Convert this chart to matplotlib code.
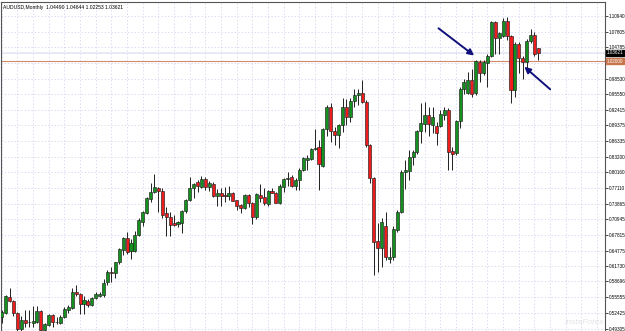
import matplotlib
matplotlib.use('Agg')
import matplotlib.pyplot as plt
import numpy as np

symbol_title = "AUDUSD,Monthly  1.04490 1.04644 1.02253 1.03621"

opens = [0.518, 0.525, 0.557, 0.548, 0.525, 0.494, 0.511, 0.508, 0.505, 0.508,
         0.528, 0.492, 0.501, 0.520, 0.507, 0.506, 0.518, 0.531, 0.535, 0.566,
         0.562, 0.543, 0.549, 0.541, 0.554, 0.558, 0.560, 0.585, 0.606, 0.603,
         0.625, 0.648, 0.672, 0.646, 0.646, 0.678, 0.704, 0.721, 0.749, 0.762,
         0.770, 0.765, 0.721, 0.713, 0.701, 0.700, 0.702, 0.725, 0.747, 0.770,
         0.782, 0.772, 0.789, 0.772, 0.779, 0.754, 0.760, 0.756, 0.754, 0.761,
         0.747, 0.737, 0.731, 0.757, 0.741, 0.713, 0.757, 0.752, 0.739, 0.765,
         0.761, 0.742, 0.772, 0.789, 0.793, 0.775, 0.786, 0.806, 0.826, 0.827,
         0.847, 0.851, 0.813, 0.886, 0.929, 0.883, 0.875, 0.894, 0.929, 0.911,
         0.942, 0.953, 0.957, 0.940, 0.855, 0.790, 0.666, 0.652, 0.695, 0.632,
         0.634, 0.688, 0.724, 0.803, 0.804, 0.832, 0.842, 0.882, 0.896, 0.914,
         0.895, 0.893, 0.893, 0.914, 0.924, 0.844, 0.839, 0.903, 0.965, 0.957,
         0.983, 0.957, 1.019, 0.996, 1.017, 1.030, 1.096, 1.065, 1.069, 1.099,
         1.069, 0.963, 1.054, 1.026, 1.019, 1.060, 1.071, 1.0449]
highs = [0.531, 0.560, 0.574, 0.551, 0.527, 0.519, 0.530, 0.530, 0.538, 0.538,
         0.530, 0.505, 0.523, 0.522, 0.518, 0.520, 0.537, 0.540, 0.574, 0.580,
         0.565, 0.558, 0.553, 0.556, 0.567, 0.566, 0.591, 0.609, 0.616, 0.626,
         0.652, 0.675, 0.685, 0.670, 0.686, 0.712, 0.726, 0.752, 0.780, 0.799,
         0.772, 0.770, 0.734, 0.723, 0.718, 0.706, 0.727, 0.749, 0.793, 0.781,
         0.787, 0.795, 0.793, 0.784, 0.782, 0.768, 0.770, 0.773, 0.774, 0.763,
         0.748, 0.739, 0.759, 0.759, 0.743, 0.760, 0.779, 0.770, 0.767, 0.771,
         0.763, 0.779, 0.791, 0.803, 0.796, 0.791, 0.809, 0.831, 0.835, 0.850,
         0.886, 0.865, 0.888, 0.934, 0.938, 0.891, 0.896, 0.948, 0.946, 0.947,
         0.965, 0.965, 0.983, 0.944, 0.858, 0.792, 0.701, 0.711, 0.724, 0.655,
         0.695, 0.727, 0.806, 0.826, 0.845, 0.846, 0.884, 0.938, 0.940, 0.930,
         0.930, 0.901, 0.924, 0.929, 0.928, 0.852, 0.905, 0.969, 0.984, 0.998,
         1.005, 1.022, 1.022, 1.022, 1.035, 1.098, 1.099, 1.078, 1.104, 1.107,
         1.072, 1.058, 1.058, 1.030, 1.063, 1.083, 1.077, 1.0464]
lows = [0.505, 0.522, 0.546, 0.519, 0.490, 0.490, 0.497, 0.497, 0.497, 0.506,
        0.490, 0.490, 0.499, 0.498, 0.504, 0.504, 0.516, 0.524, 0.533, 0.558,
        0.523, 0.523, 0.536, 0.538, 0.552, 0.556, 0.557, 0.580, 0.586, 0.593,
        0.622, 0.639, 0.641, 0.632, 0.644, 0.676, 0.695, 0.719, 0.744, 0.760,
        0.724, 0.711, 0.676, 0.676, 0.695, 0.694, 0.683, 0.722, 0.745, 0.750,
        0.762, 0.770, 0.766, 0.765, 0.752, 0.735, 0.735, 0.744, 0.748, 0.745,
        0.727, 0.722, 0.729, 0.734, 0.699, 0.709, 0.743, 0.737, 0.735, 0.760,
        0.741, 0.740, 0.762, 0.775, 0.773, 0.767, 0.767, 0.804, 0.806, 0.825,
        0.845, 0.767, 0.811, 0.872, 0.862, 0.855, 0.850, 0.881, 0.894, 0.901,
        0.930, 0.934, 0.938, 0.852, 0.780, 0.600, 0.606, 0.616, 0.629, 0.623,
        0.630, 0.685, 0.721, 0.768, 0.786, 0.816, 0.838, 0.859, 0.881, 0.872,
        0.878, 0.855, 0.890, 0.904, 0.806, 0.806, 0.836, 0.888, 0.955, 0.955,
        0.950, 0.953, 0.980, 0.993, 0.969, 1.029, 1.035, 1.035, 1.067, 1.062,
        0.937, 0.950, 0.996, 0.985, 1.006, 1.055, 1.030, 1.0225]
closes = [0.527, 0.558, 0.549, 0.525, 0.494, 0.511, 0.506, 0.507, 0.510, 0.528,
          0.492, 0.503, 0.521, 0.508, 0.508, 0.518, 0.532, 0.537, 0.566, 0.562,
          0.542, 0.550, 0.541, 0.554, 0.562, 0.562, 0.584, 0.606, 0.603, 0.625,
          0.650, 0.672, 0.645, 0.662, 0.678, 0.708, 0.724, 0.750, 0.762, 0.772,
          0.765, 0.718, 0.713, 0.698, 0.698, 0.703, 0.725, 0.747, 0.770, 0.779,
          0.775, 0.789, 0.772, 0.781, 0.754, 0.760, 0.754, 0.755, 0.761, 0.746,
          0.736, 0.732, 0.757, 0.741, 0.714, 0.758, 0.750, 0.742, 0.765, 0.761,
          0.742, 0.774, 0.789, 0.791, 0.775, 0.786, 0.807, 0.829, 0.829, 0.847,
          0.850, 0.817, 0.886, 0.929, 0.883, 0.875, 0.894, 0.929, 0.911, 0.942,
          0.953, 0.957, 0.940, 0.855, 0.790, 0.665, 0.652, 0.703, 0.634, 0.635,
          0.690, 0.724, 0.803, 0.806, 0.832, 0.842, 0.882, 0.898, 0.914, 0.896,
          0.911, 0.879, 0.916, 0.924, 0.842, 0.838, 0.903, 0.965, 0.980, 0.982,
          0.955, 1.021, 0.996, 1.019, 1.030, 1.096, 1.065, 1.075, 1.099, 1.069,
          0.963, 1.054, 1.026, 1.019, 1.060, 1.071, 1.034, 1.0362]

ytick_labels = ['1.10940', '1.07805', '1.04785', '1.01695', '0.98530', '0.95550',
                '0.92415', '0.89375', '0.86335', '0.83200', '0.80160', '0.77110',
                '0.73865', '0.70945', '0.67815', '0.64775', '0.61730', '0.58696',
                '0.55555', '0.52425', '0.49305']
hidden_label = '1.01695'
bid_price = 1.03621
level_price = 1.0200
level_label = '1.02000'

# arrows (tail -> head) in data coordinates
arrow1 = ((111.5, 1.0846), (120.6, 1.031))
arrow2 = ((140.0, 0.9647), (133.4, 1.009))

W, H = 625, 331
fig = plt.figure(figsize=(W / 100, H / 100), dpi=100)
fig.patch.set_facecolor('white')
ax = fig.add_axes([1 / W, 0.0, 604 / W, 1 - 2 / H])
ax.set_facecolor('white')

n = len(opens)
x = np.arange(n)
o = np.array(opens); c = np.array(closes)
hi = np.array(highs); lo = np.array(lows)
up = c >= o

ax.set_xlim(-0.18, 154.0)
ax.set_ylim(0.4895, 1.1363)

tick_pos = [float(t) for t in ytick_labels]
# grid
for yp in tick_pos:
    ax.axhline(yp, color='#d2d2f0', lw=0.6, ls=(0, (1.5, 2.5)), zorder=0)
for xv in range(0, 154, 4):
    ax.axvline(xv, color='#d2d2f0', lw=0.6, ls=(0, (1.5, 2.5)), zorder=0)

# bid line and level line
ax.axhline(bid_price, color='#e3e6f2', lw=1.2, zorder=1)
ax.axhline(level_price, color='#d38b6c', lw=0.8, zorder=1)

# candles
ax.vlines(x, lo, hi, color='#202020', lw=0.7, zorder=2)
bw = 0.78
body_bottom = np.minimum(o, c)
body_h = np.maximum(np.abs(c - o), 0.0008)
colors = np.where(up, '#14901e', '#ee1c1c')
ax.bar(x, body_h, bottom=body_bottom, width=bw, color=colors,
       edgecolor='#202020', linewidth=0.45, zorder=3)

# arrows
for (tail, head) in (arrow1, arrow2):
    ax.annotate('', xy=head, xytext=tail,
                arrowprops=dict(arrowstyle='-|>', color='#11117c', lw=1.4,
                                mutation_scale=9, shrinkA=0, shrinkB=0),
                zorder=5)

# axes styling
for s in ['top', 'left', 'right']:
    ax.spines[s].set_color('#555555')
    ax.spines[s].set_linewidth(0.8)
ax.spines['bottom'].set_visible(False)
ax.set_xticks([])
ax.yaxis.tick_right()
ax.set_yticks(tick_pos)
ax.set_yticklabels(['' if t == hidden_label else t for t in ytick_labels])
ax.tick_params(axis='y', length=2, width=0.5, pad=0.8, labelsize=3.3,
               colors='#000000')
for lab in ax.get_yticklabels():
    lab.set_family('Liberation Sans')

# price boxes on the right axis
ax.text(1.0035, bid_price, f'{bid_price:.5f}', transform=ax.get_yaxis_transform(),
        ha='left', va='center', fontsize=3.3, color='white', family='Liberation Sans',
        bbox=dict(boxstyle='square,pad=0.15', fc='black', ec='black'), clip_on=False)
ax.text(1.0035, level_price, level_label, transform=ax.get_yaxis_transform(),
        ha='left', va='center', fontsize=3.3, color='white', family='Liberation Sans',
        bbox=dict(boxstyle='square,pad=0.15', fc='#c8764e', ec='#c8764e'), clip_on=False)

# title
fig.text(3 / W, 1 - 7 / H, symbol_title, ha='left', va='center', fontsize=3.6,
         family='Liberation Sans', color='black')

# watermark
fig.text(0.935, 0.025, 'InstaForex', ha='center', va='center', fontsize=6,
         style='italic', color='#e2e2e2', family='Liberation Sans')

fig.savefig('out.png', dpi=100, facecolor='white')
